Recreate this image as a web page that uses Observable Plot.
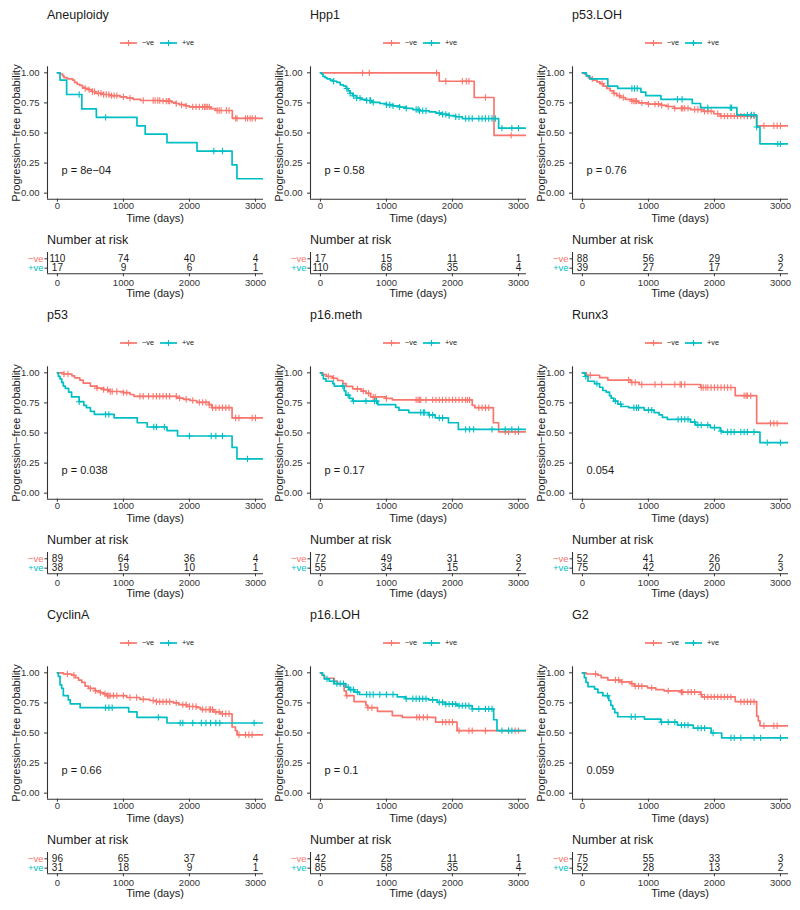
<!DOCTYPE html>
<html><head><meta charset="utf-8">
<script src="https://cdn.jsdelivr.net/npm/d3@7"></script>
<script src="https://cdn.jsdelivr.net/npm/@observablehq/plot@0.6"></script>
<style>
body{margin:0;background:#fff;}
#root{position:relative;width:800px;height:910px;overflow:hidden;background:#fff;font-family:"Liberation Sans",Arial,Helvetica,sans-serif;color:#1a1a1a;}
.t{position:absolute;white-space:nowrap;line-height:1;}
</style></head><body><div id="root"></div>
<script>
// ---------------- DATA ----------------
const panelNames = ["Aneuploidy","Hpp1","p53.LOH","p53","p16.meth","Runx3","CyclinA","p16.LOH","G2"];
const pValues = ["p = 8e\u221204","p = 0.58","p = 0.76","p = 0.038","p = 0.17","0.054","p = 0.66","p = 0.1","0.059"];
const groups = ["\u2212ve","+ve"];
const riskTimes = [0,1000,2000,3000];
const timeTicks = [0,1000,2000,3000];
const survTicks = [0,0.25,0.5,0.75,1];
const followUpEnd = 3200;

const riskNeg = [[110,74,40,4],[17,15,11,1],[88,56,29,3],[89,64,36,4],[72,49,31,3],[52,41,26,2],[96,65,37,4],[42,25,11,1],[75,55,33,3]];
const riskPos = [[17,9,6,1],[110,68,35,4],[39,27,17,2],[38,19,10,1],[55,34,15,2],[75,42,20,3],[31,18,9,1],[85,58,35,4],[52,28,13,2]];

// [time (days), survival after the drop]
const stepsNeg = [
  [[0,1],[40,0.99],[80,0.975],[100,0.96],[150,0.95],[230,0.94],[260,0.92],[300,0.905],[340,0.895],[380,0.88],[420,0.87],[470,0.86],[520,0.845],[580,0.83],[700,0.82],[800,0.81],[950,0.80],[1050,0.79],[1150,0.78],[1260,0.77],[1600,0.765],[1730,0.755],[1790,0.745],[1850,0.735],[1950,0.725],[2000,0.717],[2320,0.703],[2400,0.687],[2650,0.622]],
  [[0,1],[1800,0.93],[2330,0.795],[2630,0.48]],
  [[0,1],[30,0.99],[60,0.975],[90,0.96],[130,0.95],[170,0.94],[220,0.925],[270,0.91],[320,0.89],[370,0.87],[420,0.85],[470,0.83],[520,0.81],[580,0.795],[650,0.78],[750,0.765],[850,0.75],[1000,0.74],[1200,0.73],[1280,0.72],[1390,0.705],[1640,0.695],[1840,0.68],[1990,0.66],[2090,0.64],[2640,0.56]],
  [[0,1],[90,0.99],[220,0.975],[260,0.958],[340,0.94],[390,0.915],[500,0.89],[600,0.873],[700,0.86],[780,0.845],[1000,0.835],[1100,0.82],[1160,0.805],[1810,0.79],[1910,0.78],[2010,0.77],[2110,0.755],[2300,0.735],[2340,0.71],[2646,0.625]],
  [[0,1],[40,0.985],[90,0.97],[180,0.955],[260,0.936],[340,0.91],[390,0.887],[490,0.867],[620,0.848],[690,0.83],[760,0.80],[990,0.787],[1090,0.775],[2300,0.73],[2340,0.71],[2620,0.585],[2700,0.51]],
  [[0,1],[60,0.98],[260,0.96],[385,0.94],[736,0.92],[861,0.903],[1790,0.878],[2315,0.81],[2640,0.58]],
  [[0,1],[90,0.99],[220,0.98],[270,0.96],[320,0.94],[370,0.92],[420,0.89],[470,0.87],[570,0.85],[650,0.835],[700,0.825],[750,0.81],[1050,0.795],[1250,0.78],[1400,0.77],[1500,0.76],[1760,0.75],[1840,0.735],[1960,0.72],[2110,0.71],[2170,0.695],[2370,0.675],[2470,0.66],[2646,0.55],[2697,0.52],[2722,0.485]],
  [[0,1],[25,0.98],[60,0.955],[210,0.93],[260,0.906],[360,0.85],[390,0.81],[510,0.76],[690,0.73],[715,0.71],[865,0.68],[1090,0.645],[1240,0.63],[1745,0.59],[2070,0.52]],
  [[0,1],[60,0.99],[235,0.98],[285,0.96],[385,0.94],[586,0.925],[736,0.91],[786,0.89],[986,0.875],[1112,0.86],[1237,0.85],[1490,0.84],[1790,0.82],[1810,0.80],[2315,0.76],[2640,0.64],[2665,0.60],[2690,0.56]]
];
const stepsPos = [
  [[0,1],[40,0.94],[140,0.82],[370,0.70],[590,0.63],[1205,0.56],[1330,0.49],[1660,0.42],[2115,0.35],[2646,0.235],[2720,0.12]],
  [[0,1],[20,0.99],[40,0.97],[70,0.96],[100,0.95],[150,0.94],[200,0.93],[250,0.92],[300,0.90],[350,0.89],[390,0.87],[420,0.85],[450,0.83],[490,0.81],[550,0.79],[620,0.78],[700,0.77],[780,0.755],[900,0.745],[1000,0.735],[1100,0.725],[1200,0.715],[1300,0.705],[1400,0.695],[1500,0.685],[1650,0.675],[1750,0.665],[1850,0.655],[1950,0.645],[2050,0.635],[2150,0.62],[2700,0.54]],
  [[0,1],[60,0.975],[110,0.95],[385,0.89],[535,0.87],[886,0.84],[960,0.81],[1190,0.78],[1665,0.745],[1790,0.71],[2340,0.65],[2640,0.55],[2690,0.41]],
  [[0,1],[15,0.97],[40,0.95],[65,0.92],[90,0.89],[120,0.87],[170,0.84],[215,0.80],[330,0.76],[400,0.73],[440,0.71],[500,0.68],[560,0.655],[860,0.625],[1210,0.585],[1360,0.55],[1660,0.52],[1820,0.475],[2646,0.38],[2720,0.285]],
  [[0,1],[25,0.98],[45,0.95],[85,0.93],[190,0.91],[210,0.89],[360,0.85],[385,0.815],[440,0.787],[490,0.765],[870,0.735],[1140,0.713],[1190,0.69],[1340,0.67],[1640,0.65],[1740,0.625],[1940,0.585],[2090,0.53]],
  [[0,1],[40,0.97],[85,0.93],[185,0.91],[260,0.88],[310,0.853],[360,0.84],[410,0.81],[436,0.79],[476,0.765],[536,0.74],[586,0.72],[700,0.71],[936,0.69],[1087,0.67],[1162,0.65],[1212,0.63],[1287,0.613],[1638,0.59],[1713,0.566],[1938,0.545],[2088,0.517],[2115,0.508],[2690,0.42]],
  [[0,1],[15,0.97],[40,0.90],[65,0.87],[90,0.81],[165,0.775],[195,0.742],[345,0.71],[1080,0.675],[1205,0.63],[1660,0.583]],
  [[0,1],[35,0.98],[60,0.95],[135,0.93],[210,0.91],[385,0.88],[435,0.86],[515,0.84],[590,0.82],[1165,0.80],[1290,0.785],[1640,0.775],[1770,0.755],[1890,0.74],[2070,0.727],[2300,0.70],[2625,0.61],[2675,0.52]],
  [[0,1],[30,0.96],[55,0.92],[85,0.885],[185,0.865],[235,0.835],[310,0.81],[400,0.77],[430,0.73],[460,0.70],[490,0.67],[535,0.635],[940,0.615],[1190,0.59],[1440,0.565],[1680,0.54],[1950,0.50],[2110,0.46]]
];
// censoring times (days)
const censNeg = [
  [420,480,530,560,620,660,700,740,780,820,860,900,1000,1100,1300,1450,1480,1520,1550,1600,1650,1680,1700,1800,1880,1950,2050,2100,2150,2200,2230,2250,2270,2300,2420,2450,2480,2560,2600,2700,2720,2850,2880,2920,2950,3000],
  [640,740,1760,1900,2150,2210,2250,2500,2890],
  [150,300,480,560,620,750,780,800,820,900,1000,1100,1150,1200,1300,1400,1500,1520,1550,1600,1700,1750,1800,1850,1900,1950,2050,2100,2150,2200,2250,2300,2350,2400,2450,2500,2550,2600,2750,2900,2950,3000],
  [100,160,600,700,760,800,830,900,1000,1050,1250,1300,1380,1450,1500,1550,1600,1650,1700,1800,1850,1950,2050,2150,2200,2250,2300,2350,2400,2450,2500,2550,2600,2700,2750,2950,3000],
  [120,200,560,650,730,800,830,1000,1450,1480,1500,1520,1600,1700,1750,1800,1850,1900,1950,2000,2050,2100,2150,2200,2230,2260,2400,2450,2500,2550,2800,2850,2950,3000],
  [120,700,750,800,900,1100,1200,1400,1480,1500,1550,1800,1830,1870,1900,1950,2000,2050,2100,2150,2200,2250,2450,2480,2500,2550,2850,2900,2950],
  [150,250,500,580,650,720,760,780,800,850,900,1000,1100,1200,1300,1450,1500,1550,1600,1650,1700,1800,1900,1950,2000,2050,2100,2200,2250,2300,2320,2350,2400,2450,2500,2550,2600,2750,2850,2900,2950],
  [400,720,780,1460,1500,1560,1620,1850,1900,1950,2000,2100,2250,2300,2500,2850,2950,3000],
  [200,500,550,600,750,800,850,900,1050,1300,1500,1520,1600,1650,1700,1800,1850,1900,1950,2000,2050,2100,2150,2200,2250,2400,2450,2500,2550,2600,2750,2900,2950]
];
const censPos = [
  [330,730,2370,2500],
  [200,400,450,500,550,600,700,750,760,800,1000,1050,1100,1200,1300,1450,1480,1500,1550,1600,1800,1850,1900,1950,2050,2100,2200,2250,2300,2400,2450,2500,2550,2600,2650,2750,2900,3000],
  [750,790,830,1440,1510,1900,2240,2260,2500,2560,2600,2640,2960,3000],
  [330,730,780,1460,1500,1620,2000,2330,2400,2500,2880],
  [340,420,500,690,820,850,1520,1560,1580,1650,1700,1800,1850,2200,2260,2320,2600,2800,2900,3000],
  [50,220,500,580,780,820,850,1000,1050,1450,1500,1550,1600,1700,1750,1800,1900,2000,2100,2200,2250,2300,2400,2450,2500,2600,2800,3000],
  [730,780,830,1530,1860,1900,2050,2180,2250,2320,2400,2460,2980],
  [100,200,250,300,350,420,460,500,560,700,750,800,900,1000,1100,1300,1400,1450,1500,1550,1600,1700,1800,1850,1900,1950,2000,2050,2100,2150,2200,2250,2300,2400,2500,2550,2600,2750,2850,2900],
  [380,740,800,1200,1300,1400,1500,1550,1600,1750,1800,1850,1980,2250,2300,2400,2600,2700,3000]
];

// ---------------- RENDER ----------------
const RED = "#F8766D", TEAL = "#00BFC4", INK = "#1a1a1a", AXIS = "#333333";
const FONT = '"Liberation Sans", Arial, Helvetica, sans-serif';
const colLeft = [0, 263, 525], rowTop = [0, 300, 600];
const xDomain = [-150, 3122];
const root = document.getElementById("root");

function survAt(steps, t) {
  let s = steps[0][1];
  for (const [ti, si] of steps) { if (ti <= t) s = si; else break; }
  return s;
}
function lineData(steps) {
  return [...steps.map(([t, s]) => ({t, s})), {t: followUpEnd, s: steps[steps.length - 1][1]}];
}
function addText(parent, txt, left, top, size, extra = "") {
  const d = document.createElement("div");
  d.className = "t";
  d.textContent = txt;
  d.style.cssText += `left:${left}px;top:${top}px;font-size:${size}px;${extra}`;
  parent.appendChild(d);
  return d;
}
function place(parent, node, left, top) {
  const w = document.createElement("div");
  w.style.cssText = `position:absolute;left:${left}px;top:${top}px;`;
  w.appendChild(node);
  parent.appendChild(w);
}

panelNames.forEach((name, i) => {
  const col = i % 3, row = Math.floor(i / 3);
  const panel = document.createElement("div");
  panel.style.cssText = `position:absolute;left:${colLeft[col]}px;top:${rowTop[row]}px;width:275px;height:300px;`;
  root.appendChild(panel);

  // title
  addText(panel, name, 47, 9.4, 12.5);

  // legend
  const ns = "http://www.w3.org/2000/svg";
  const lg = document.createElementNS(ns, "svg");
  lg.setAttribute("width", 273); lg.setAttribute("height", 12);
  lg.style.cssText = "position:absolute;left:0;top:36.7px;overflow:visible;";
  [[RED, 120, groups[0]], [TEAL, 160, groups[1]]].forEach(([c, x0, lab]) => {
    const l = document.createElementNS(ns, "line");
    l.setAttribute("x1", x0); l.setAttribute("x2", x0 + 17); l.setAttribute("y1", 6); l.setAttribute("y2", 6);
    l.setAttribute("stroke", c); l.setAttribute("stroke-width", 1.7);
    lg.appendChild(l);
    const p = document.createElementNS(ns, "path");
    const cx = x0 + 8.5;
    p.setAttribute("d", `M${cx-3},6H${cx+3}M${cx},3V9`);
    p.setAttribute("stroke", c); p.setAttribute("stroke-width", 1.1);
    lg.appendChild(p);
    const t = document.createElementNS(ns, "text");
    t.setAttribute("x", x0 + 22); t.setAttribute("y", 6);
    t.setAttribute("dy", "0.33em");
    t.setAttribute("font-size", 7.3); t.setAttribute("font-family", FONT); t.setAttribute("fill", INK);
    t.textContent = lab;
    lg.appendChild(t);
  });
  panel.appendChild(lg);

  // main KM plot
  const sN = stepsNeg[i], sP = stepsPos[i];
  const main = Plot.plot({
    width: 273, height: 170,
    marginLeft: 47, marginRight: 10, marginTop: 6.3, marginBottom: 31.3,
    style: {fontFamily: FONT, fontSize: "9.5px", color: AXIS, background: "transparent", overflow: "visible"},
    x: {domain: xDomain, ticks: timeTicks, tickFormat: d => String(d), tickSize: 3, tickPadding: 0.5, label: null},
    y: {domain: [-0.05, 1.05], ticks: survTicks, tickFormat: ".2f", tickSize: 3, tickPadding: 5, label: null},
    marks: [
      Plot.ruleX([xDomain[0]], {stroke: AXIS, strokeWidth: 1.1}),
      Plot.ruleY([-0.05], {stroke: AXIS, strokeWidth: 1.1}),
      Plot.line(lineData(sN), {x: "t", y: "s", curve: "step-after", stroke: RED, strokeWidth: 1.7, clip: true}),
      Plot.dot(censNeg[i].map(t => ({t, s: survAt(sN, t)})), {x: "t", y: "s", symbol: "plus", r: 2.2, stroke: RED, strokeWidth: 1.1, clip: true}),
      Plot.line(lineData(sP), {x: "t", y: "s", curve: "step-after", stroke: TEAL, strokeWidth: 1.7, clip: true}),
      Plot.dot(censPos[i].map(t => ({t, s: survAt(sP, t)})), {x: "t", y: "s", symbol: "plus", r: 2.2, stroke: TEAL, strokeWidth: 1.1, clip: true}),
      Plot.text([pValues[i]], {x: () => 62, y: () => 0.19, text: d => d, textAnchor: "start", fontSize: 11, fill: INK})
    ]
  });
  place(panel, main, 0, 60);

  // axis titles
  addText(panel, "Time (days)", 105, 213.4, 11, "width:100px;text-align:center;");
  addText(panel, "Progression\u2212free probability", 15.7 - 90, 132.5 - 6, 11,
    "width:180px;height:12px;line-height:12px;text-align:center;transform:rotate(-90deg);transform-origin:50% 50%;");

  // risk table
  addText(panel, "Number at risk", 47, 233.7, 12.5);
  const riskData = riskTimes.flatMap((t, j) => [{t, g: 1, n: riskNeg[i][j]}, {t, g: 0, n: riskPos[i][j]}]);
  const risk = Plot.plot({
    width: 273, height: 46,
    marginLeft: 47, marginRight: 10, marginTop: 7, marginBottom: 46 - 7 - 21.3,
    style: {fontFamily: FONT, fontSize: "9.5px", color: AXIS, background: "transparent", overflow: "visible"},
    x: {domain: xDomain, ticks: timeTicks, tickFormat: d => String(d), tickSize: 3, tickPadding: 2.3, label: null},
    y: {domain: [-0.6, 1.67], ticks: [0, 1], tickFormat: () => "", tickSize: 2.5, label: null},
    marks: [
      Plot.ruleX([xDomain[0]], {stroke: AXIS, strokeWidth: 1.1}),
      Plot.ruleY([-0.6], {stroke: AXIS, strokeWidth: 1.1}),
      Plot.text(riskData, {x: "t", y: "g", text: "n", fontSize: 10, fill: INK}),
      Plot.text([{g: 1, l: groups[0]}], {x: () => xDomain[0], y: "g", text: "l", textAnchor: "end", dx: -4, fontSize: 9.5, fill: RED}),
      Plot.text([{g: 0, l: groups[1]}], {x: () => xDomain[0], y: "g", text: "l", textAnchor: "end", dx: -4, fontSize: 9.5, fill: TEAL})
    ]
  });
  place(panel, risk, 0, 245);
  addText(panel, "Time (days)", 105, 288.4, 11, "width:100px;text-align:center;");
});
</script>
</body></html>
